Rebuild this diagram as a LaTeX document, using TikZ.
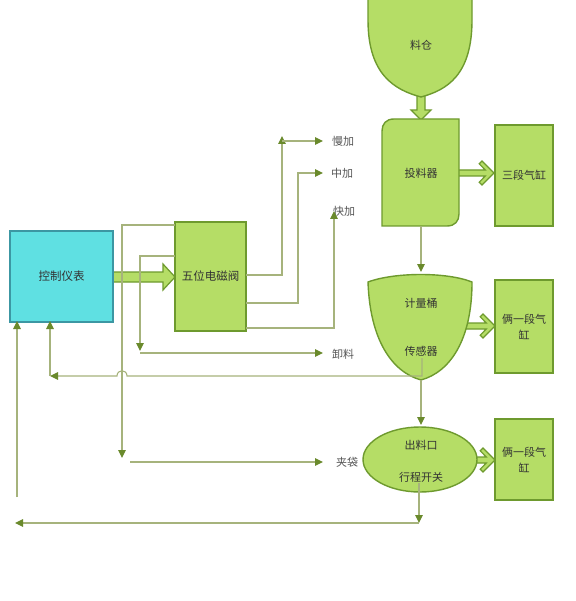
\documentclass[tikz,border=0pt]{standalone}
\usepackage{fontspec}
\setmainfont{Noto Sans CJK SC}
\usetikzlibrary{arrows.meta,shapes.geometric}
\definecolor{gfill}{HTML}{B5DD66}
\definecolor{gdraw}{HTML}{6E9A2E}
\definecolor{cfill}{HTML}{5FE0E2}
\definecolor{cdraw}{HTML}{3C97A3}
\definecolor{lnc}{HTML}{A6B37C}
\definecolor{arrc}{HTML}{6A8A2C}
\definecolor{txt}{HTML}{333333}
\definecolor{lbltxt}{HTML}{555555}
\begin{document}
\begin{tikzpicture}[x=1pt,y=-1pt,
  ln/.style={draw=lnc, line width=1.1pt},
  arr/.style={ln, -{Triangle[length=8pt,width=7.5pt,color=arrc]}},
  shp/.style={draw=gdraw, fill=gfill, line width=1.4pt},
  gbox/.style={shp, inner sep=0pt, outer sep=0pt, text=txt, align=center, font=\fontsize{11}{16}\selectfont},
  tx/.style={text=txt, inner sep=0pt, font=\fontsize{11}{13}\selectfont},
  lbl/.style={text=lbltxt, inner sep=0pt, anchor=west, font=\fontsize{11}{13}\selectfont},
  blk/.style={draw=gdraw, fill=gfill, line width=1.2pt, line join=miter},
]
\useasboundingbox (0,0) rectangle (575,601);
\fill[white] (0,0) rectangle (575,601);

% ---- block arrows (drawn first, shapes cover their tails)
\draw[blk] (113,272) -- (163,272) -- (163,264) -- (175,277) -- (163,290) -- (163,282) -- (113,282) -- cycle;
\draw[blk] (417,90) -- (417,110) -- (411,110) -- (421,120) -- (431,110) -- (425,110) -- (425,90) -- cycle;
\draw[blk, shift={(494,173)}] (-40,3) -- (-8.7,3) -- (-14.8,9.2) -- (-12,12) -- (0,0) -- (-12,-12) -- (-14.8,-9.2) -- (-8.7,-3) -- (-40,-3) -- cycle;
\draw[blk, shift={(495,326)}] (-35,3) -- (-8.7,3) -- (-14.8,9.2) -- (-12,12) -- (0,0) -- (-12,-12) -- (-14.8,-9.2) -- (-8.7,-3) -- (-35,-3) -- cycle;
\draw[blk, shift={(495,460)}] (-30,3) -- (-8.7,3) -- (-14.8,9.2) -- (-12,12) -- (0,0) -- (-12,-12) -- (-14.8,-9.2) -- (-8.7,-3) -- (-30,-3) -- cycle;

% ---- shapes
\node[draw=cdraw, fill=cfill, line width=1.4pt, minimum width=103pt, minimum height=91pt,
      inner sep=0pt, text=txt, font=\fontsize{11.5}{14}\selectfont] (ctrl) at (61.5,276.5) {控制仪表};
\node[gbox, minimum width=71pt, minimum height=109pt, font=\fontsize{11.5}{14}\selectfont] (valve) at (210.5,276.5) {五位电磁阀};

% hopper
\draw[shp] (368,-3) -- (368,20) .. controls (368,75) and (395,90) .. (421,97)
           .. controls (447,90) and (472,75) .. (472,20) -- (472,-3);
\node[tx] (hop) at (421,45) {料仓};

% feeder
\draw[shp] (394,119) -- (459,119) -- (459,214) .. controls (459,221) and (455,226) .. (447,226)
           -- (382,226) -- (382,131) .. controls (382,124) and (386,119) .. (394,119) -- cycle;
\node[tx] (feed) at (421,173) {投料器};

% metering shield
\draw[shp] (368,282) .. controls (395,272) and (447,272) .. (472,282)
           .. controls (472,340) and (450,372) .. (421,380)
           .. controls (392,372) and (370,340) .. (368,282) -- cycle;
\node[tx] (meas) at (421,303) {计量桶};
\node[tx] (sens) at (421,351) {传感器};

% outlet ellipse
\node[ellipse, shp, minimum width=114pt, minimum height=65pt, inner sep=0pt] (outl) at (420,459.5) {};
\node[tx] (outt) at (421,445) {出料口};
\node[tx] (trav) at (421,477) {行程开关};

% cylinders
\node[gbox, minimum width=58pt, minimum height=101pt] (cyl3) at (524,175.5) {三段气缸};
\node[gbox, minimum width=58pt, minimum height=93pt] (cyl1) at (524,326.5) {俩一段气\\缸};
\node[gbox, minimum width=58pt, minimum height=81pt] (cyl2) at (524,459.5) {俩一段气\\缸};

% ---- labels
\node[lbl] (lman) at (332,141) {慢加};
\node[lbl] (lzhong) at (331,173) {中加};
\node[lbl] (lkuai) at (333,211) {快加};
\node[lbl] (lxie) at (332,354) {卸料};
\node[lbl] (ljia) at (336,462) {夹袋};

% ---- coordinates
\coordinate (a1) at (175,225);  \coordinate (a2) at (122,225);  \coordinate (a3) at (122,458);
\coordinate (b1) at (175,256);  \coordinate (b2) at (140,256);  \coordinate (b3) at (140,351);
\coordinate (b0) at (140,353);  \coordinate (b4) at (323,353);
\coordinate (c1) at (246,275);  \coordinate (c2) at (282,275);  \coordinate (c3) at (282,136);
\coordinate (c4) at (282,141);  \coordinate (c5) at (323,141);
\coordinate (d1) at (246,303);  \coordinate (d2) at (298,303);  \coordinate (d3) at (298,173);
\coordinate (d4) at (323,173);
\coordinate (e1) at (246,328);  \coordinate (e2) at (334,328);  \coordinate (e3) at (334,211);
\coordinate (f1) at (421,226);  \coordinate (f2) at (421,272);
\coordinate (g1) at (422,358);  \coordinate (g2) at (422,376);  \coordinate (g3) at (127,376);
\coordinate (g4) at (117,376);  \coordinate (g5) at (50,376);   \coordinate (g6) at (50,321);
\coordinate (h1) at (421,380);  \coordinate (h2) at (421,425);
\coordinate (i1) at (419,483);  \coordinate (i2) at (419,523);  \coordinate (i3) at (15,523);
\coordinate (j1) at (17,497);   \coordinate (j2) at (17,321);
\coordinate (k1) at (130,462);  \coordinate (k2) at (323,462);

% ---- connectors
\draw[arr] (a1) -- (a2) -- (a3);
\draw[arr] (b1) -- (b2) -- (b3);
\draw[arr] (b0) -- (b4);
\draw[arr] (c1) -- (c2) -- (c3);
\draw[arr] (c4) -- (c5);
\draw[arr] (d1) -- (d2) -- (d3) -- (d4);
\draw[arr] (e1) -- (e2) -- (e3);
\draw[arr] (f1) -- (f2);
\draw[arr] (g1) -- (g2) -- (g3) .. controls (127,369) and (117,369) .. (g4) -- (g5);
\draw[arr] (g5) -- (g6);
\draw[arr] (h1) -- (h2);
\draw[arr] (i1) -- (i2);
\draw[arr] (i2) -- (i3);
\draw[arr] (j1) -- (j2);
\draw[arr] (k1) -- (k2);
\end{tikzpicture}
\end{document}
